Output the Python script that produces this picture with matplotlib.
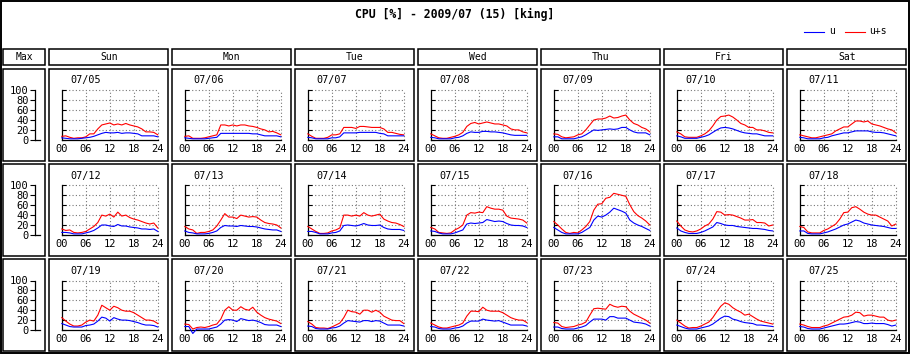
import matplotlib.pyplot as plt
from matplotlib.patches import Rectangle
from matplotlib.lines import Line2D

# Data (hourly CPU %)
hours = list(range(25))
days = ['Sun', 'Mon', 'Tue', 'Wed', 'Thu', 'Fri', 'Sat']
dates = [['07/05', '07/06', '07/07', '07/08', '07/09', '07/10', '07/11'],
         ['07/12', '07/13', '07/14', '07/15', '07/16', '07/17', '07/18'],
         ['07/19', '07/20', '07/21', '07/22', '07/23', '07/24', '07/25']]
hour_ticks = [0, 6, 12, 18, 24]
hour_labels = ['00', '06', '12', '18', '24']
pct_ticks = [0, 20, 40, 60, 80, 100]

u_w1 = [
    [4, 3, 2, 2, 2, 3, 4, 5, 7, 10, 13, 15, 14, 14, 15, 13, 14, 14, 13, 12, 8, 8, 8, 8, 6],
    [4, 3, 2, 2, 2, 2, 3, 4, 5, 13, 13, 13, 13, 13, 13, 13, 13, 12, 12, 10, 8, 8, 8, 8, 6],
    [5, 4, 2, 2, 2, 2, 4, 4, 6, 14, 14, 14, 14, 15, 15, 15, 15, 15, 13, 12, 8, 8, 8, 8, 8],
    [5, 4, 2, 2, 2, 2, 4, 5, 8, 13, 16, 15, 15, 17, 17, 16, 16, 15, 14, 12, 10, 9, 9, 9, 9],
    [6, 6, 2, 2, 2, 2, 4, 6, 10, 15, 20, 19, 20, 21, 22, 21, 22, 25, 25, 20, 16, 14, 14, 14, 10],
    [8, 6, 3, 3, 3, 3, 5, 7, 10, 15, 20, 24, 25, 24, 22, 19, 16, 14, 13, 12, 12, 10, 8, 8, 8],
    [5, 4, 2, 2, 2, 2, 4, 5, 8, 10, 12, 14, 14, 16, 18, 18, 18, 18, 16, 15, 15, 14, 12, 10, 8],
]
us_w1 = [
    [7, 8, 5, 3, 4, 4, 6, 12, 12, 22, 30, 32, 34, 30, 32, 30, 33, 30, 28, 26, 22, 16, 16, 15, 10],
    [7, 8, 3, 3, 3, 4, 6, 8, 10, 30, 30, 28, 30, 28, 30, 30, 28, 27, 25, 22, 20, 16, 17, 14, 10],
    [12, 7, 3, 3, 3, 5, 10, 10, 12, 25, 25, 25, 23, 27, 27, 26, 25, 25, 25, 22, 15, 15, 13, 11, 10],
    [12, 8, 4, 3, 3, 5, 7, 10, 15, 27, 33, 35, 32, 34, 36, 34, 32, 32, 30, 28, 22, 20, 20, 16, 14],
    [12, 11, 6, 4, 5, 6, 10, 12, 20, 30, 40, 42, 42, 44, 48, 44, 45, 48, 50, 40, 33, 30, 25, 22, 16],
    [16, 12, 6, 5, 5, 5, 8, 12, 18, 28, 40, 47, 48, 50, 46, 40, 33, 30, 25, 25, 20, 20, 18, 15, 14],
    [10, 8, 6, 4, 4, 6, 8, 10, 12, 18, 22, 26, 26, 32, 38, 38, 36, 38, 32, 30, 28, 25, 22, 20, 14],
]
u_w2 = [
    [5, 5, 4, 2, 2, 2, 4, 6, 9, 14, 20, 20, 18, 17, 21, 18, 18, 16, 15, 14, 12, 12, 11, 12, 7],
    [8, 5, 4, 2, 2, 2, 3, 5, 8, 15, 19, 18, 18, 17, 19, 18, 17, 17, 16, 14, 12, 11, 10, 10, 7],
    [7, 7, 5, 2, 2, 2, 4, 5, 8, 19, 20, 19, 18, 20, 23, 20, 19, 19, 20, 15, 12, 11, 11, 11, 9],
    [8, 7, 4, 2, 2, 2, 4, 7, 10, 22, 24, 23, 24, 25, 31, 29, 27, 28, 27, 23, 20, 19, 19, 18, 15],
    [15, 10, 5, 2, 2, 2, 2, 5, 10, 15, 30, 38, 36, 40, 46, 54, 51, 48, 44, 30, 24, 20, 17, 13, 9],
    [14, 8, 5, 3, 3, 3, 5, 8, 12, 16, 25, 23, 20, 19, 19, 17, 16, 15, 14, 13, 13, 12, 11, 9, 8],
    [8, 8, 3, 2, 2, 2, 4, 6, 9, 12, 16, 20, 22, 26, 30, 28, 24, 22, 20, 19, 18, 17, 15, 13, 13],
]
us_w2 = [
    [12, 9, 10, 5, 4, 5, 7, 12, 17, 25, 40, 38, 42, 36, 46, 38, 40, 35, 32, 30, 27, 24, 22, 24, 14],
    [17, 12, 10, 3, 5, 5, 7, 10, 18, 30, 43, 36, 36, 33, 40, 38, 36, 37, 36, 30, 25, 23, 22, 20, 14],
    [17, 12, 7, 3, 3, 4, 8, 10, 14, 40, 40, 38, 40, 38, 45, 40, 38, 40, 42, 32, 28, 25, 24, 21, 17],
    [15, 12, 5, 4, 3, 4, 10, 14, 20, 40, 45, 44, 46, 45, 57, 54, 52, 52, 50, 38, 34, 33, 32, 30, 24],
    [27, 20, 12, 5, 3, 5, 4, 10, 17, 27, 50, 62, 63, 74, 76, 84, 82, 80, 78, 61, 47, 39, 34, 28, 20],
    [28, 18, 10, 7, 6, 8, 12, 18, 22, 32, 47, 46, 40, 41, 40, 37, 34, 30, 30, 31, 25, 25, 24, 18, 20],
    [17, 15, 6, 4, 4, 4, 9, 12, 17, 22, 32, 45, 46, 55, 57, 52, 46, 42, 40, 40, 36, 32, 28, 18, 22],
]
u_w3 = [
    [13, 10, 7, 6, 6, 6, 9, 10, 12, 18, 26, 24, 18, 25, 22, 20, 20, 19, 17, 15, 12, 10, 10, 9, 6],
    [7, 7, -7, 2, 2, 2, 2, 4, 6, 12, 20, 21, 20, 17, 23, 21, 19, 20, 18, 15, 11, 10, 10, 10, 7],
    [8, 7, 3, 2, 2, 2, 4, 5, 8, 14, 19, 18, 17, 16, 19, 19, 17, 19, 18, 14, 10, 10, 10, 10, 8],
    [7, 6, 3, 2, 2, 2, 4, 5, 8, 14, 18, 18, 18, 22, 20, 19, 18, 19, 16, 13, 10, 10, 10, 10, 8],
    [6, 6, 3, 2, 2, 2, 4, 6, 9, 16, 22, 22, 22, 20, 27, 27, 24, 24, 24, 20, 16, 15, 14, 12, 8],
    [10, 7, 4, 2, 2, 2, 4, 6, 8, 12, 18, 24, 28, 27, 22, 20, 17, 15, 14, 13, 10, 10, 9, 8, 7],
    [7, 6, 3, 2, 2, 2, 4, 6, 8, 10, 12, 12, 13, 15, 17, 16, 13, 13, 14, 13, 13, 13, 11, 8, 10],
]
us_w3 = [
    [25, 18, 12, 8, 8, 10, 16, 20, 18, 30, 50, 45, 40, 48, 45, 40, 38, 38, 35, 30, 25, 20, 20, 18, 13],
    [12, 11, 2, 5, 6, 5, 7, 10, 12, 22, 40, 47, 40, 40, 47, 42, 40, 46, 36, 30, 25, 22, 20, 18, 13],
    [17, 12, 5, 4, 4, 3, 6, 10, 14, 25, 40, 37, 36, 32, 40, 40, 36, 40, 36, 28, 24, 20, 19, 19, 13],
    [14, 10, 6, 4, 4, 6, 8, 10, 14, 28, 38, 38, 37, 46, 40, 38, 38, 38, 35, 30, 25, 22, 20, 20, 15],
    [15, 14, 7, 5, 6, 7, 10, 12, 16, 30, 43, 44, 43, 42, 52, 48, 46, 48, 47, 38, 32, 28, 24, 20, 14],
    [20, 14, 8, 4, 5, 5, 8, 12, 16, 25, 37, 48, 55, 52, 45, 40, 36, 30, 32, 27, 22, 18, 16, 14, 12],
    [12, 10, 7, 5, 5, 5, 8, 10, 14, 18, 22, 26, 27, 30, 36, 35, 28, 30, 30, 28, 26, 26, 20, 18, 20],
]
u_weeks = [u_w1, u_w2, u_w3]
us_weeks = [us_w1, us_w2, us_w3]

plt.rcParams['font.family'] = 'DejaVu Sans Mono'
W, H = 910, 354
fig = plt.figure(figsize=(W / 100, H / 100), dpi=100)


def frect(x, y, w, h):
    # pixel box (top-left origin) -> figure fraction
    return [x / W, 1 - (y + h) / H, w / W, h / H]


def box(x, y, w, h, lw=1.1):
    fig.patches.append(Rectangle((x / W, 1 - (y + h) / H), w / W, h / H,
                                 transform=fig.transFigure, fill=False,
                                 ec='black', lw=lw))


# outer frame
box(0.7, 0.7, W - 1.4, H - 1.4, lw=1.4)

fig.text(455 / W, 1 - 14 / H, 'CPU [%] - 2009/07 (15) [king]', ha='center',
         va='center', fontsize=8.3, fontweight='bold')

# legend
fig.lines.append(Line2D([804 / W, 824 / W], [1 - 31.5 / H] * 2, color='#0000ff',
                        lw=0.8, transform=fig.transFigure))
fig.text(829 / W, 1 - 31 / H, 'u', va='center', fontsize=7)
fig.lines.append(Line2D([845 / W, 865 / W], [1 - 31.5 / H] * 2, color='#ff0000',
                        lw=0.8, transform=fig.transFigure))
fig.text(869 / W, 1 - 31 / H, 'u+s', va='center', fontsize=7)

col0, pitch, cw = 49.3, 123.0, 119.0
row0, rpitch, rh = 69.0, 95.1, 91.7

# header row
box(3.3, 49, 41.8, 16)
fig.text(24.2 / W, 1 - 57 / H, 'Max', ha='center', va='center', fontsize=7)
for j, d in enumerate(days):
    x = col0 + j * pitch
    box(x, 49, cw, 16)
    fig.text((x + cw / 2) / W, 1 - 57 / H, d, ha='center', va='center', fontsize=7)

for i in range(3):
    ytop = row0 + i * rpitch
    ptop = ytop + 21.3

    # Max column scale
    box(3.3, ytop, 41.8, rh)
    mx = fig.add_axes(frect(35, ptop, 5, 49.5))
    mx.set_xlim(0, 1)
    mx.set_ylim(0, 100)
    mx.set_xticks([])
    mx.set_yticks(pct_ticks)
    mx.tick_params(axis='y', direction='out', length=3.5, width=0.8, pad=1,
                   labelsize=7.5)
    for s in ['top', 'right']:
        mx.spines[s].set_visible(False)
    mx.spines['left'].set_linewidth(0.9)
    mx.spines['bottom'].set_linewidth(0.9)
    mx.patch.set_visible(False)

    for j in range(7):
        x = col0 + j * pitch
        box(x, ytop, cw, rh)
        fig.text((x + 21.5) / W, 1 - (ytop + 11.5) / H, dates[i][j],
                 va='center', fontsize=7.3)

        ax = fig.add_axes(frect(x + 12.5, ptop, 96, 49.5))
        ax.set_xlim(0, 24)
        ax.set_ylim(0, 100)
        for g in pct_ticks[1:]:
            ax.axhline(g, color='#777777', lw=0.8, ls=(0, (1, 2)), clip_on=False, zorder=1)
        for g in hour_ticks[1:]:
            ax.axvline(g, color='#777777', lw=0.8, ls=(0, (1, 2)), clip_on=False, zorder=1)
        ax.plot(hours, us_weeks[i][j], color='#ff0000', lw=0.8, clip_on=False, zorder=3)
        ax.plot(hours, u_weeks[i][j], color='#0000ff', lw=0.8, clip_on=False, zorder=4)
        ax.set_xticks(hour_ticks)
        ax.set_xticklabels(hour_labels)
        ax.set_yticks(pct_ticks)
        ax.set_yticklabels([])
        ax.tick_params(axis='x', length=0, pad=3, labelsize=7.5)
        ax.tick_params(axis='y', direction='in', length=3, width=0.8)
        for s in ['top', 'right']:
            ax.spines[s].set_visible(False)
        ax.spines['left'].set_linewidth(0.9)
        ax.spines['bottom'].set_linewidth(0.9)
        ax.patch.set_visible(False)

fig.savefig('out.png', dpi=100)
